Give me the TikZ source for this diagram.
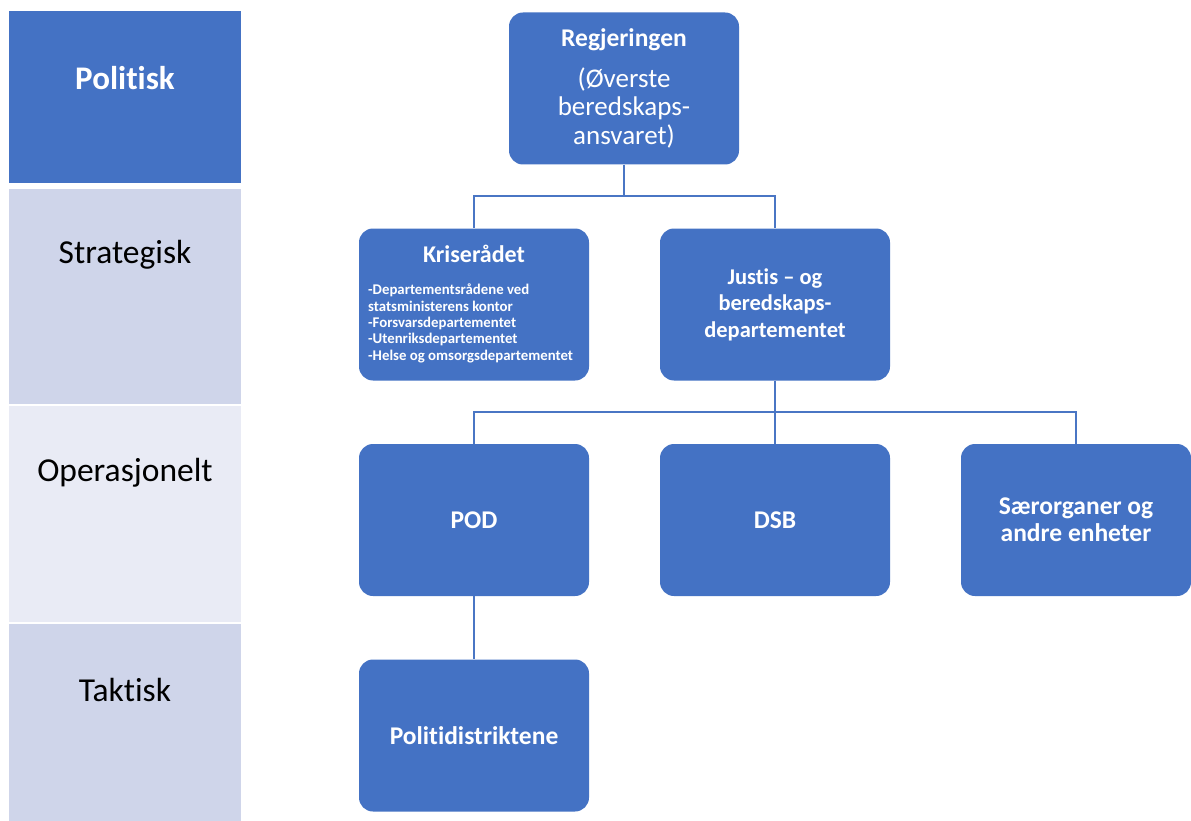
\documentclass[tikz,border=0pt]{standalone}
\usepackage{fontspec}
\setmainfont{Carlito}[Ligatures=NoCommon]
\definecolor{blu}{HTML}{4472C4}
\definecolor{rowA}{HTML}{CFD5EA}
\definecolor{rowB}{HTML}{E9EBF5}
\definecolor{linec}{HTML}{4A76C4}
\begin{document}
\begin{tikzpicture}[x=1pt,y=-1pt,
  box/.style={fill=blu, rounded corners=14pt, minimum width=230pt, minimum height=152pt, text=white, align=center, inner sep=0pt},
  boxtext/.style={font=\bfseries\fontsize{25.5}{27}\selectfont},
  row/.style={minimum width=232pt, inner sep=0pt, anchor=north west},
  rowlabel/.style={font=\fontsize{33.5}{36}\selectfont, text=black},
  conn/.style={draw=linec, line width=1.3pt}]
\useasboundingbox (0,0) rectangle (1191,821);
\fill[white] (0,0) rectangle (1191,821);
% left level column
\node[row, fill=blu, minimum height=172pt] (lp) at (9,11) {};
\node[row, fill=rowA, minimum height=215pt] (ls) at (9,189) {};
\node[row, fill=rowB, minimum height=216pt] (lo) at (9,406) {};
\node[row, fill=rowA, minimum height=197pt] (lt) at (9,624) {};
\node[font=\bfseries\fontsize{33}{36}\selectfont, text=white] at (125,78) {Politisk};
\node[rowlabel] at (125,255) {Strategisk};
\node[rowlabel] at (125,473) {Operasjonelt};
\node[rowlabel] at (125,690) {Taktisk};
% boxes
\node[box, font=\fontsize{27}{28.5}\selectfont] (reg) at (624,88.5) {{\bfseries\fontsize{25.5}{28.5}\selectfont Regjeringen}\\[12pt](Øverste\\beredskaps-\\ansvaret)};
\node[box] (kris) at (474,304.5) {};
\node[font=\bfseries\fontsize{24}{26}\selectfont, text=white] at (474,254) {Kriserådet};
\node[anchor=north west, align=left, inner sep=0pt, font=\bfseries\fontsize{14.8}{16.3}\selectfont, text=white] at (368,284) {-Departementsrådene ved\\statsministerens kontor\\-Forsvarsdepartementet\\-Utenriksdepartementet\\-Helse og omsorgsdepartementet};
\node[box, font=\bfseries\fontsize{22.5}{26.5}\selectfont] (jus) at (775,304.5) {Justis -- og\\beredskaps-\\departementet};
\node[box, boxtext] (pod) at (474,520) {POD};
\node[box, boxtext] (dsb) at (775,520) {DSB};
\node[box, boxtext] (sar) at (1076,520) {Særorganer og\\andre enheter};
\node[box, boxtext] (pol) at (474,735.5) {Politidistriktene};
% connectors
\coordinate (j1) at (624,196);
\coordinate (j2) at (775,412);
\draw[conn] (reg.south) -- (j1) -| (kris.north);
\draw[conn] (j1) -| (jus.north);
\draw[conn] (jus.south) -- (j2) -| (pod.north);
\draw[conn] (j2) -- (dsb.north);
\draw[conn] (j2) -| (sar.north);
\draw[conn] (pod.south) -- (pol.north);
\end{tikzpicture}
\end{document}
